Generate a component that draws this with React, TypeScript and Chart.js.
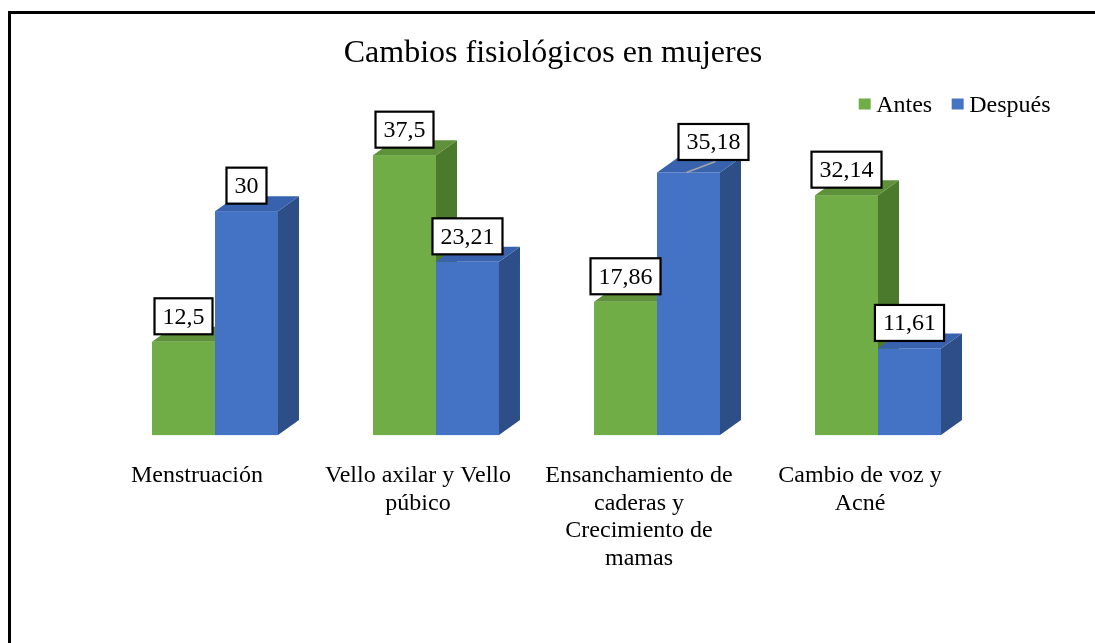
import React, { useEffect, useRef } from 'react';
import { Chart, registerables } from 'chart.js';

Chart.register(...registerables);

// ---- data ----
const categories: string[][] = [
  ['Menstruación'],
  ['Vello axilar y Vello', 'púbico'],
  ['Ensanchamiento de', 'caderas y', 'Crecimiento de', 'mamas'],
  ['Cambio de voz y', 'Acné'],
];
const seriesNames: string[] = ['Antes', 'Después'];
const antes: number[] = [12.5, 37.5, 17.86, 32.14];
const despues: number[] = [30, 23.21, 35.18, 11.61];
const chartTitle = 'Cambios fisiológicos en mujeres';

// ---- style ----
const FONT = "'Liberation Serif', 'Times New Roman', serif";
const FRONT = ['#70AD47', '#4472C4'];
const TOP = ['#5E9139', '#3862AD'];
const SIDE = ['#4C7A2D', '#2D4E86'];
const DX = 21;
const DY = 15;

const fmt = (v: number) => String(v).replace('.', ',');

const bars3d = {
  id: 'bars3d',
  beforeDatasetsDraw(chart: any) {
    const ctx: CanvasRenderingContext2D = chart.ctx;
    const metas = chart
      .getSortedVisibleDatasetMetas()
      .slice()
      .sort((a: any, b: any) => a.index - b.index);
    const n = chart.data.labels.length;
    ctx.save();
    for (let i = 0; i < n; i++) {
      for (const meta of metas) {
        const el = meta.data[i];
        const ds = meta.index;
        const left = el.x - el.width / 2;
        const right = el.x + el.width / 2;
        const top = el.y;
        const base = el.base;
        ctx.fillStyle = FRONT[ds];
        ctx.fillRect(left, top, el.width, base - top);
        ctx.fillStyle = SIDE[ds];
        ctx.beginPath();
        ctx.moveTo(right, top);
        ctx.lineTo(right + DX, top - DY);
        ctx.lineTo(right + DX, base - DY);
        ctx.lineTo(right, base);
        ctx.closePath();
        ctx.fill();
        ctx.fillStyle = TOP[ds];
        ctx.beginPath();
        ctx.moveTo(left, top);
        ctx.lineTo(left + DX, top - DY);
        ctx.lineTo(right + DX, top - DY);
        ctx.lineTo(right, top);
        ctx.closePath();
        ctx.fill();
      }
    }
    // data labels
    ctx.font = `24px ${FONT}`;
    ctx.textAlign = 'center';
    ctx.textBaseline = 'middle';
    for (const meta of metas) {
      const ds = meta.index;
      meta.data.forEach((el: any, i: number) => {
        const v = chart.data.datasets[ds].data[i];
        const text = fmt(v);
        const tw = ctx.measureText(text).width;
        const bw = tw + 16;
        const bh = 36;
        let cx = el.x;
        let cy = el.y - 25.5;
        if (ds === 1 && i === 2) {
          cx += 25;
          cy -= 5;
          ctx.strokeStyle = '#A6A6A6';
          ctx.lineWidth = 1.5;
          ctx.beginPath();
          ctx.moveTo(el.x - 2, el.y);
          ctx.lineTo(cx + 2, cy + bh / 2 + 1.5);
          ctx.stroke();
        }
        ctx.fillStyle = '#FFFFFF';
        ctx.fillRect(cx - bw / 2, cy - bh / 2, bw, bh);
        ctx.strokeStyle = '#000000';
        ctx.lineWidth = 2.2;
        ctx.strokeRect(cx - bw / 2, cy - bh / 2, bw, bh);
        ctx.fillStyle = '#000000';
        ctx.fillText(text, cx, cy + 1);
      });
    }
    ctx.restore();
    return false;
  },
};

const legendPlugin = {
  id: 'customLegend',
  afterDraw(chart: any) {
    const ctx: CanvasRenderingContext2D = chart.ctx;
    ctx.save();
    ctx.font = `24px ${FONT}`;
    ctx.textAlign = 'left';
    ctx.textBaseline = 'alphabetic';
    const baseline = 97.7;
    const rightEnd = chart.width - 44.5;
    const w2 = ctx.measureText(seriesNames[1]).width;
    const w1 = ctx.measureText(seriesNames[0]).width;
    const t2 = rightEnd - w2;
    const s2 = t2 - 17.5;
    const t1 = s2 - 19.5 - w1;
    const s1 = t1 - 17.5;
    const items = [
      { s: s1, t: t1, c: FRONT[0], label: seriesNames[0] },
      { s: s2, t: t2, c: FRONT[1], label: seriesNames[1] },
    ];
    for (const it of items) {
      ctx.fillStyle = it.c;
      ctx.fillRect(it.s, 84.5, 12, 11);
      ctx.fillStyle = '#000000';
      ctx.fillText(it.label, it.t, baseline);
    }
    ctx.restore();
  },
};

export default function App() {
  const ref = useRef<HTMLCanvasElement | null>(null);
  useEffect(() => {
    if (!ref.current) return;
    const chart = new Chart(ref.current, {
      type: 'bar',
      data: {
        labels: categories as any,
        datasets: [
          {
            label: seriesNames[0],
            data: antes,
            backgroundColor: FRONT[0],
            categoryPercentage: 0.57,
            barPercentage: 1,
          },
          {
            label: seriesNames[1],
            data: despues,
            backgroundColor: FRONT[1],
            categoryPercentage: 0.57,
            barPercentage: 1,
          },
        ],
      },
      options: {
        responsive: true,
        maintainAspectRatio: false,
        animation: false,
        layout: { padding: { left: 0, right: 0, top: 0, bottom: 43.5 } },
        plugins: {
          legend: { display: false },
          tooltip: { enabled: false },
          title: {
            display: true,
            text: chartTitle,
            color: '#000000',
            font: { family: FONT, size: 32, weight: 'normal' as any },
            padding: { top: 20.5, bottom: 63.6 },
          },
        },
        scales: {
          x: {
            grid: { display: false, drawTicks: false },
            border: { display: false },
            ticks: {
              color: '#000000',
              font: { family: FONT, size: 24, lineHeight: 1.15 },
              padding: 27,
              labelOffset: -18,
              maxRotation: 0,
              autoSkip: false,
            },
          },
          y: {
            type: 'linear',
            position: 'left',
            min: 0,
            max: 40,
            grid: { display: false, drawTicks: false },
            border: { display: false },
            ticks: { display: false },
            afterFit: (s: any) => {
              s.width = 93.5;
            },
          },
          yr: {
            type: 'linear',
            position: 'right',
            grid: { display: false, drawTicks: false },
            border: { display: false },
            ticks: { display: false },
            afterFit: (s: any) => {
              s.width = 106.5;
            },
          },
        } as any,
      },
      plugins: [bars3d, legendPlugin],
    });
    return () => chart.destroy();
  }, []);

  return (
    <div
      style={{
        position: 'absolute',
        left: 8,
        top: 11,
        width: 1087,
        height: 632,
        boxSizing: 'border-box',
        borderLeft: '3px solid #000',
        borderTop: '3px solid #000',
        background: '#fff',
      }}
    >
      <div style={{ position: 'relative', width: 1084, height: 629 }}>
        <canvas ref={ref} />
      </div>
    </div>
  );
}
